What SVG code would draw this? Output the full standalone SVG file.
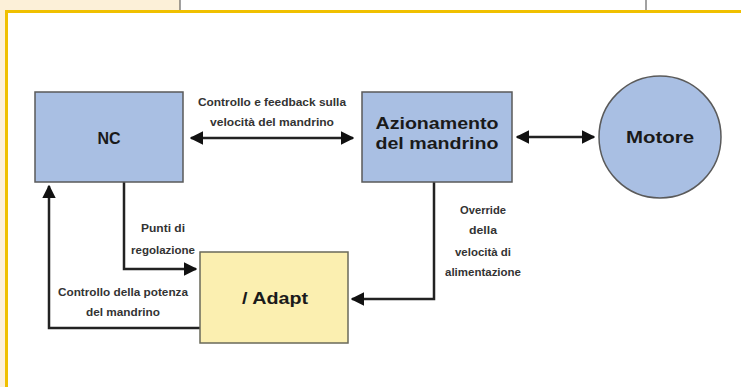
<svg xmlns="http://www.w3.org/2000/svg" width="741" height="387" viewBox="0 0 741 387">
<style>
.box{fill:#a9bfe3;stroke:#5a5a5a;stroke-width:1.5}
.adapt{fill:#fbefb0;stroke:#6a6a5a;stroke-width:1.5}
.title{font-family:"Liberation Sans",Arial,sans-serif;font-weight:bold;fill:#1a1a1a;text-anchor:middle}
.lbl{font-family:"Liberation Sans",Arial,sans-serif;font-size:10.5px;fill:#333;text-anchor:middle;font-weight:bold}
.wire{fill:none;stroke:#222;stroke-width:2.5}
</style>
<defs>
<marker id="ah" viewBox="0 0 10 10" refX="9" refY="5" markerWidth="5.5" markerHeight="5.5" orient="auto-start-reverse" markerUnits="strokeWidth">
<path d="M0,0 L10,5 L0,10 z" fill="#111"/>
</marker>
</defs>
<rect x="0" y="0" width="741" height="387" fill="#ffffff"/>
<rect x="0" y="0" width="180" height="10" fill="#fcf0d8"/>
<rect x="0" y="0" width="5" height="387" fill="#fcf0d8"/>
<line x1="180" y1="0" x2="180" y2="10" stroke="#444" stroke-width="1"/>
<line x1="646" y1="0" x2="646" y2="10" stroke="#444" stroke-width="1"/>
<path d="M6.5,387 V11.5 H741" fill="none" stroke="#f0c000" stroke-width="3"/>

<g id="connectors">
<line class="wire" x1="191" y1="138" x2="353" y2="138" marker-start="url(#ah)" marker-end="url(#ah)"/>
<line class="wire" x1="517" y1="137" x2="594" y2="137" marker-start="url(#ah)" marker-end="url(#ah)"/>
<path class="wire" d="M124,182 V269 H196" marker-end="url(#ah)"/>
<path class="wire" d="M200,328 H49 V186" marker-end="url(#ah)"/>
<path class="wire" d="M434,182 V299 H352" marker-end="url(#ah)"/>
<text class="lbl" x="272" y="106" textLength="148" lengthAdjust="spacingAndGlyphs">Controllo e feedback sulla</text>
<text class="lbl" x="272" y="126" textLength="124" lengthAdjust="spacingAndGlyphs">velocità del mandrino</text>
<text class="lbl" x="163" y="232" textLength="44" lengthAdjust="spacingAndGlyphs">Punti di</text>
<text class="lbl" x="163" y="254" textLength="64" lengthAdjust="spacingAndGlyphs">regolazione</text>
<text class="lbl" x="123" y="296" textLength="130" lengthAdjust="spacingAndGlyphs">Controllo della potenza</text>
<text class="lbl" x="123" y="316" textLength="74" lengthAdjust="spacingAndGlyphs">del mandrino</text>
<text class="lbl" x="483" y="214" textLength="46" lengthAdjust="spacingAndGlyphs">Override</text>
<text class="lbl" x="483" y="234" textLength="28" lengthAdjust="spacingAndGlyphs">della</text>
<text class="lbl" x="483" y="256" textLength="56" lengthAdjust="spacingAndGlyphs">velocità di</text>
<text class="lbl" x="483" y="276" textLength="76" lengthAdjust="spacingAndGlyphs">alimentazione</text>
</g>

<g id="nc">
<rect class="box" x="35" y="92" width="148" height="90"/>
<text class="title" x="109" y="144" font-size="16">NC</text>
</g>
<g id="azionamento">
<rect class="box" x="362" y="92" width="150" height="90"/>
<text class="title" x="437" y="129" font-size="16" textLength="123" lengthAdjust="spacingAndGlyphs">Azionamento</text>
<text class="title" x="437" y="149" font-size="16" textLength="123" lengthAdjust="spacingAndGlyphs">del mandrino</text>
</g>
<g id="motore">
<circle class="box" cx="660" cy="137" r="61"/>
<text class="title" x="660" y="143" font-size="16" textLength="68" lengthAdjust="spacingAndGlyphs">Motore</text>
</g>
<g id="adapt">
<rect class="adapt" x="200" y="252" width="148" height="91"/>
<text class="title" x="275" y="304" font-size="17" textLength="66" lengthAdjust="spacingAndGlyphs">/ Adapt</text>
</g>
</svg>
